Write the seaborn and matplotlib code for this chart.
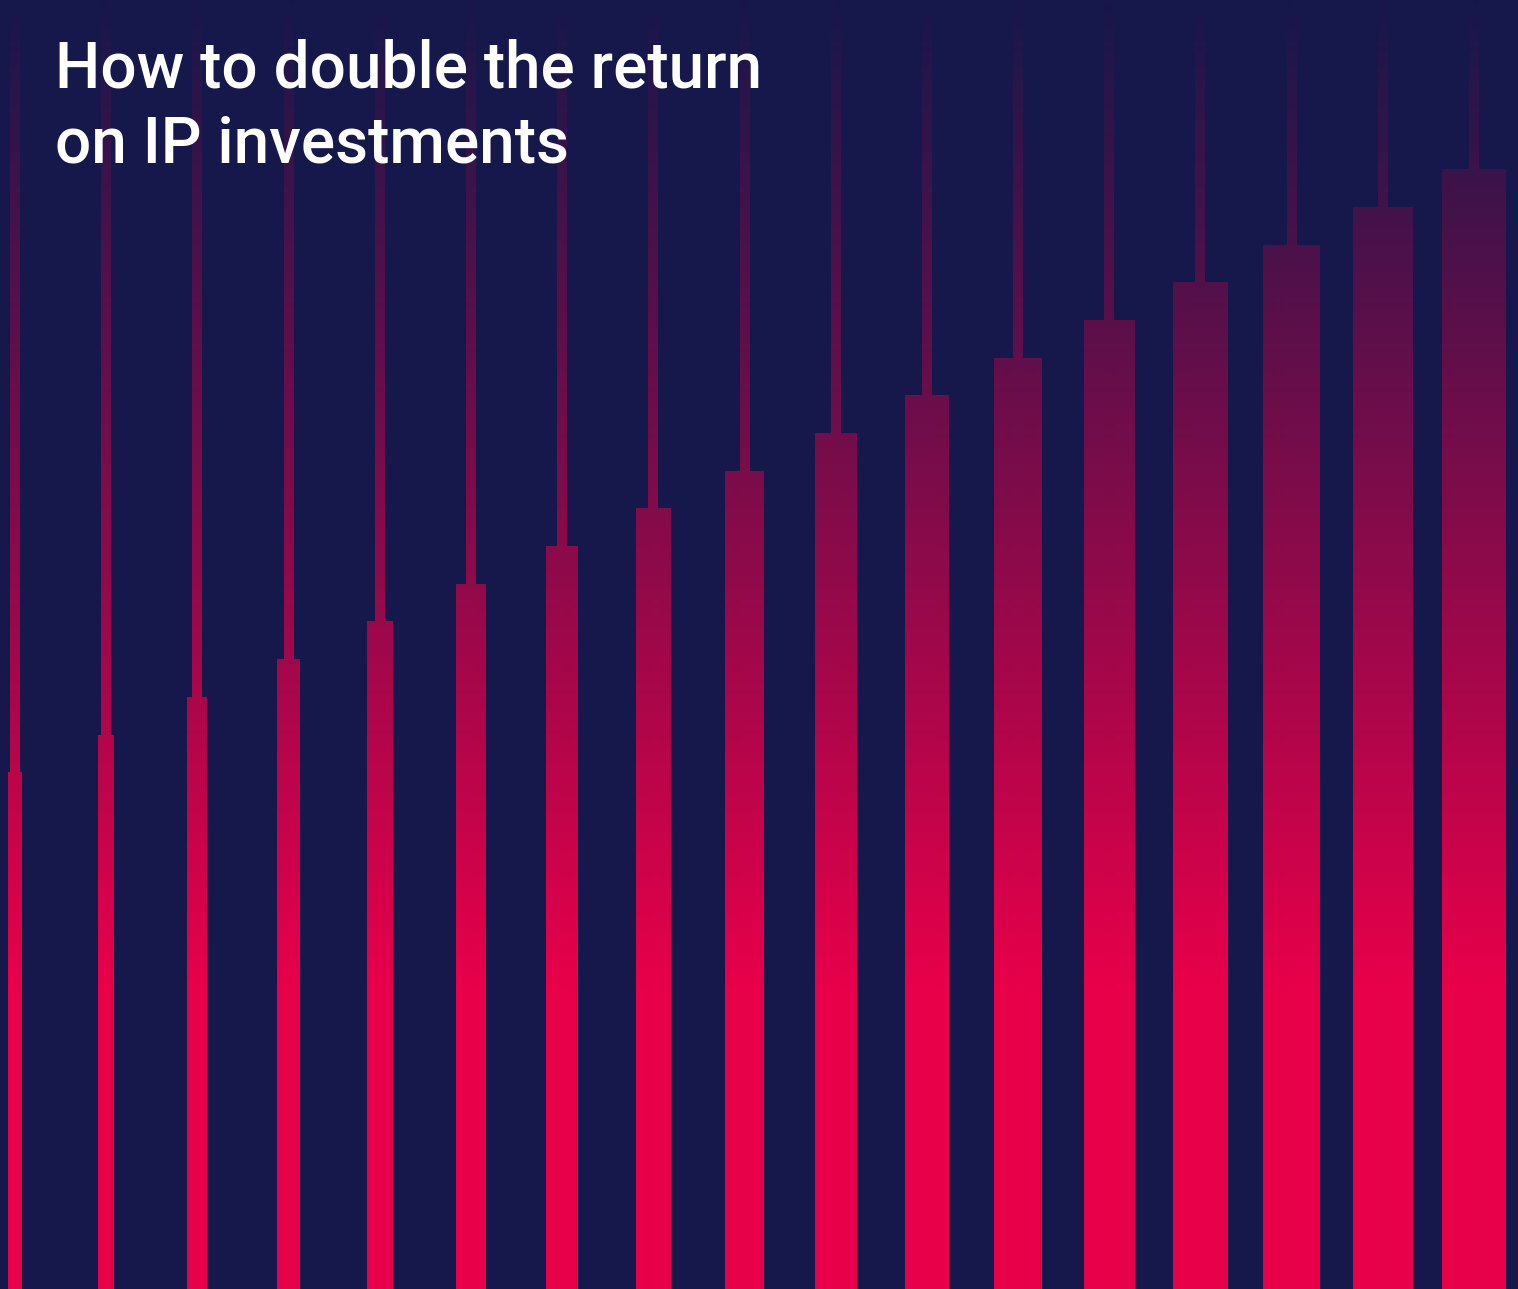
import numpy as np
import pandas as pd
import matplotlib
matplotlib.use("Agg")
import matplotlib.pyplot as plt
import seaborn as sns
from matplotlib.colors import LinearSegmentedColormap

# ---- data ----
periods = [f"P{i}" for i in range(1, 18)]
returns = [517, 554, 592, 630, 668, 705, 743, 781, 818, 856, 894, 931, 969,
           1007, 1044, 1082, 1120]
ceiling = 1289
title = "How to double the return\non IP investments"

# ---- style ----
BG = "#16174a"
PINK = "#e8004a"
BAR_WIDTH_PX = [14, 16, 20, 23, 26, 29, 32, 35, 39, 42, 44, 48, 51, 55, 57, 60, 64]
STEM_WIDTH_PX = 10
PITCH_PX = 91.19
FIRST_CENTER_PX = 15
W, H = 1518, 1289

sns.set_theme(style="white")
plt.rcParams["font.family"] = ["Roboto", "DejaVu Sans"]

fig = plt.figure(figsize=(W / 100, H / 100), dpi=100, facecolor=BG)
ax = fig.add_axes([0, 0, 1, 1])
ax.set_facecolor(BG)

df = pd.DataFrame({"period": periods, "ret": returns, "ceil": [ceiling] * len(periods)})

sns.barplot(data=df, x="period", y="ceil", order=periods, color=PINK,
            errorbar=None, ax=ax, width=0.5)
n_stem = len(ax.patches)
sns.barplot(data=df, x="period", y="ret", order=periods, color=PINK,
            errorbar=None, ax=ax, width=0.5)

xmin = -FIRST_CENTER_PX / PITCH_PX
xmax = (W - FIRST_CENTER_PX) / PITCH_PX
ax.set_xlim(xmin, xmax)
ax.set_ylim(0, ceiling)

for i, p in enumerate(ax.patches):
    idx = i % len(periods)
    wpx = STEM_WIDTH_PX if i < n_stem else BAR_WIDTH_PX[idx]
    w = wpx / PITCH_PX
    p.set_x(idx - w / 2)
    p.set_width(w)
    p.set_facecolor("none")
    p.set_edgecolor("none")
    p.set_linewidth(0)

cmap = LinearSegmentedColormap.from_list(
    "grad", [(0.0, PINK), (300 / ceiling, PINK), (1.0, "#17174a")])
grad = np.linspace(0, ceiling, 1289).reshape(-1, 1)
for p in ax.patches:
    im = ax.imshow(grad, extent=[xmin, xmax, 0, ceiling], origin="lower",
                   aspect="auto", cmap=cmap, vmin=0, vmax=ceiling,
                   interpolation="bilinear", zorder=2)
    im.set_clip_path(p)

ax.set_xlim(xmin, xmax)
ax.set_ylim(0, ceiling)
ax.axis("off")

fig.text(55 / W, 1 - 39 / H, title, color="white", fontsize=46,
         fontweight="medium", ha="left", va="top", linespacing=1.25,
         family=["Roboto", "DejaVu Sans"])

fig.savefig("out.png", dpi=100, facecolor=BG)
